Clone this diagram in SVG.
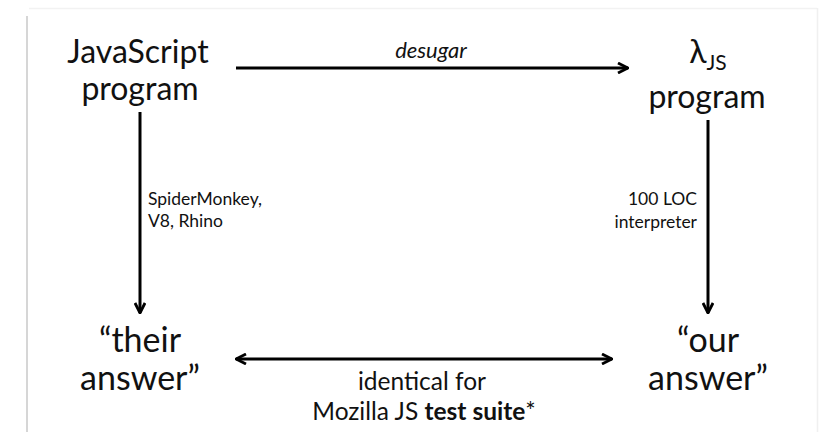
<svg xmlns="http://www.w3.org/2000/svg" width="820" height="432" viewBox="0 0 820 432">
<defs>
<style>
.t{font-family:Lato,"Noto Sans",sans-serif;fill:#111;}
.big{font-size:32px;text-anchor:middle;}
.ans{font-size:34px;text-anchor:middle;}
.sm{font-size:17.5px;}
.md{font-size:24.5px;text-anchor:middle;}
.ln{stroke:#000;stroke-width:3;fill:none;}
</style>
<marker id="ah" viewBox="0 0 12 12" refX="11" refY="6" markerWidth="12" markerHeight="12" markerUnits="userSpaceOnUse" orient="auto-start-reverse">
<path d="M1,1 L11,6 L1,11" fill="none" stroke="#000" stroke-width="2.8" stroke-linejoin="miter"/>
</marker>
</defs>
<rect width="820" height="432" fill="#fff"/>
<g id="frame">
<line x1="29" y1="8.5" x2="817" y2="8.5" stroke="#f2f2f2" stroke-width="1.5"/>
<line x1="817.5" y1="8" x2="817.5" y2="432" stroke="#f0f0f0" stroke-width="1.5"/>
<line x1="27" y1="16" x2="27" y2="432" stroke="#d6d6d6" stroke-width="2"/>
</g>
<g id="connectors">
<line class="ln" x1="236" y1="68" x2="628" y2="68" marker-end="url(#ah)"/>
<line class="ln" x1="140" y1="112" x2="140" y2="313" marker-end="url(#ah)"/>
<line class="ln" x1="708" y1="120" x2="708" y2="313" marker-end="url(#ah)"/>
<line class="ln" x1="236" y1="359" x2="612" y2="359" marker-start="url(#ah)" marker-end="url(#ah)"/>
<text class="t" x="431" y="58" font-style="italic" font-size="22" text-anchor="middle">desugar</text>
<text class="t sm" x="148" y="205">SpiderMonkey,</text>
<text class="t sm" x="148" y="227">V8, Rhino</text>
<text class="t sm" x="697" y="205" text-anchor="end">100 LOC</text>
<text class="t sm" x="697" y="228" text-anchor="end">interpreter</text>
<text class="t md" x="422" y="390">identical for</text>
<text class="t md" x="424" y="420">Mozilla JS <tspan font-weight="bold">test suite</tspan>*</text>
</g>
<g id="js-program">
<text class="t big" x="138" y="63">JavaScript</text>
<text class="t big" x="140" y="100">program</text>
</g>
<g id="ljs-program">
<text class="t big" x="708" y="63">λ<tspan font-size="21" dy="7">JS</tspan></text>
<text class="t big" x="707" y="108">program</text>
</g>
<g id="their-answer">
<text class="t ans" x="140" y="352">“their</text>
<text class="t ans" x="140" y="390">answer”</text>
</g>
<g id="our-answer">
<text class="t ans" x="708" y="352">“our</text>
<text class="t ans" x="708" y="390">answer”</text>
</g>
</svg>
